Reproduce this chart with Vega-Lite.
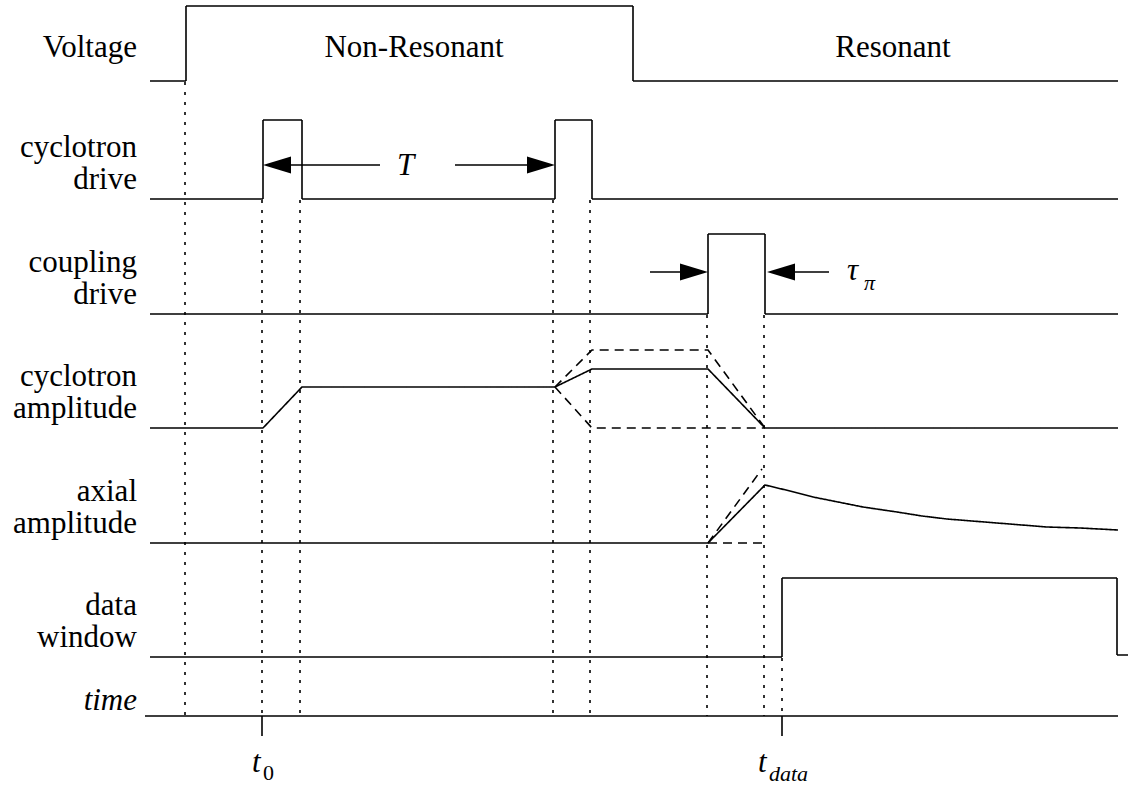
{
  "$schema": "https://vega.github.io/schema/vega-lite/v6.json",
  "width": 1134,
  "height": 785,
  "autosize": {"type": "fit", "contains": "padding"},
  "padding": 0,
  "background": "white",
  "config": {"view": {"stroke": null}},
  "datasets": {
    "lines": [
      {"s":"volt","st":"solid","i":0,"x":150,"y":81},{"s":"volt","st":"solid","i":1,"x":186,"y":81},{"s":"volt","st":"solid","i":2,"x":186,"y":6},{"s":"volt","st":"solid","i":3,"x":633,"y":6},{"s":"volt","st":"solid","i":4,"x":633,"y":81},{"s":"volt","st":"solid","i":5,"x":1118,"y":81},
      {"s":"cd","st":"solid","i":0,"x":150,"y":199},{"s":"cd","st":"solid","i":1,"x":263,"y":199},{"s":"cd","st":"solid","i":2,"x":263,"y":120},{"s":"cd","st":"solid","i":3,"x":302,"y":120},{"s":"cd","st":"solid","i":4,"x":302,"y":199},{"s":"cd","st":"solid","i":5,"x":555,"y":199},{"s":"cd","st":"solid","i":6,"x":555,"y":120},{"s":"cd","st":"solid","i":7,"x":592,"y":120},{"s":"cd","st":"solid","i":8,"x":592,"y":199},{"s":"cd","st":"solid","i":9,"x":1118,"y":199},
      {"s":"cp","st":"solid","i":0,"x":150,"y":314},{"s":"cp","st":"solid","i":1,"x":708,"y":314},{"s":"cp","st":"solid","i":2,"x":708,"y":234},{"s":"cp","st":"solid","i":3,"x":765,"y":234},{"s":"cp","st":"solid","i":4,"x":765,"y":314},{"s":"cp","st":"solid","i":5,"x":1118,"y":314},
      {"s":"ca","st":"solid","i":0,"x":150,"y":428},{"s":"ca","st":"solid","i":1,"x":263,"y":428},{"s":"ca","st":"solid","i":2,"x":302,"y":387},{"s":"ca","st":"solid","i":3,"x":555,"y":387},{"s":"ca","st":"solid","i":4,"x":592,"y":369},{"s":"ca","st":"solid","i":5,"x":708,"y":369},{"s":"ca","st":"solid","i":6,"x":765,"y":428},{"s":"ca","st":"solid","i":7,"x":1118,"y":428},
      {"s":"caU","st":"dashed","i":0,"x":555,"y":387},{"s":"caU","st":"dashed","i":1,"x":592,"y":350},{"s":"caU","st":"dashed","i":2,"x":708,"y":350},{"s":"caU","st":"dashed","i":3,"x":765,"y":428},
      {"s":"caD","st":"dashed","i":0,"x":555,"y":387},{"s":"caD","st":"dashed","i":1,"x":592,"y":428},{"s":"caD","st":"dashed","i":2,"x":765,"y":428},
      {"s":"ax","st":"solid","i":0,"x":150,"y":543},{"s":"ax","st":"solid","i":1,"x":708,"y":543},{"s":"ax","st":"solid","i":2,"x":765,"y":485},{"s":"ax","st":"solid","i":3,"x":790,"y":491},{"s":"ax","st":"solid","i":4,"x":813,"y":497},{"s":"ax","st":"solid","i":5,"x":838,"y":502},{"s":"ax","st":"solid","i":6,"x":863,"y":507},{"s":"ax","st":"solid","i":7,"x":897,"y":512},{"s":"ax","st":"solid","i":8,"x":922,"y":516},{"s":"ax","st":"solid","i":9,"x":947,"y":519},{"s":"ax","st":"solid","i":10,"x":972,"y":521},{"s":"ax","st":"solid","i":11,"x":997,"y":523},{"s":"ax","st":"solid","i":12,"x":1022,"y":525},{"s":"ax","st":"solid","i":13,"x":1047,"y":527},{"s":"ax","st":"solid","i":14,"x":1080,"y":528},{"s":"ax","st":"solid","i":15,"x":1118,"y":530},
      {"s":"axU","st":"dashed","i":0,"x":708,"y":543},{"s":"axU","st":"dashed","i":1,"x":762,"y":469},
      {"s":"axF","st":"dashed","i":0,"x":708,"y":543},{"s":"axF","st":"dashed","i":1,"x":765,"y":543},
      {"s":"dw","st":"solid","i":0,"x":150,"y":657},{"s":"dw","st":"solid","i":1,"x":782,"y":657},{"s":"dw","st":"solid","i":2,"x":782,"y":578},{"s":"dw","st":"solid","i":3,"x":1117,"y":578},{"s":"dw","st":"solid","i":4,"x":1117,"y":655},{"s":"dw","st":"solid","i":5,"x":1128,"y":655},
      {"s":"time","st":"solid","i":0,"x":145,"y":716},{"s":"time","st":"solid","i":1,"x":1118,"y":716},
      {"s":"tk0","st":"solid","i":0,"x":262,"y":716},{"s":"tk0","st":"solid","i":1,"x":262,"y":736},
      {"s":"tk1","st":"solid","i":0,"x":782,"y":716},{"s":"tk1","st":"solid","i":1,"x":782,"y":736},
      {"s":"a1","st":"solid","i":0,"x":290,"y":165},{"s":"a1","st":"solid","i":1,"x":380,"y":165},
      {"s":"a2","st":"solid","i":0,"x":455,"y":165},{"s":"a2","st":"solid","i":1,"x":528,"y":165},
      {"s":"a3","st":"solid","i":0,"x":650,"y":272},{"s":"a3","st":"solid","i":1,"x":681,"y":272},
      {"s":"a4","st":"solid","i":0,"x":795,"y":272},{"s":"a4","st":"solid","i":1,"x":829,"y":272},
      {"s":"d1","st":"dotted","i":0,"x":185,"y":82},{"s":"d1","st":"dotted","i":1,"x":185,"y":716},
      {"s":"d2","st":"dotted","i":0,"x":262,"y":200},{"s":"d2","st":"dotted","i":1,"x":262,"y":716},
      {"s":"d3","st":"dotted","i":0,"x":300,"y":200},{"s":"d3","st":"dotted","i":1,"x":300,"y":716},
      {"s":"d4","st":"dotted","i":0,"x":553,"y":200},{"s":"d4","st":"dotted","i":1,"x":553,"y":716},
      {"s":"d5","st":"dotted","i":0,"x":590,"y":200},{"s":"d5","st":"dotted","i":1,"x":590,"y":716},
      {"s":"d6","st":"dotted","i":0,"x":707,"y":315},{"s":"d6","st":"dotted","i":1,"x":707,"y":716},
      {"s":"d7","st":"dotted","i":0,"x":764,"y":315},{"s":"d7","st":"dotted","i":1,"x":764,"y":716},
      {"s":"d8","st":"dotted","i":0,"x":782,"y":658},{"s":"d8","st":"dotted","i":1,"x":782,"y":716}
    ],
    "arrows": [
      {"x":263,"y":165,"dir":"left"},
      {"x":555,"y":165,"dir":"right"},
      {"x":708,"y":272,"dir":"right"},
      {"x":767,"y":272,"dir":"left"}
    ],
    "labelsR": [
      {"x":137,"y":57,"text":"Voltage"},
      {"x":137,"y":157,"text":"cyclotron"},
      {"x":137,"y":189,"text":"drive"},
      {"x":137,"y":272,"text":"coupling"},
      {"x":137,"y":304,"text":"drive"},
      {"x":137,"y":386,"text":"cyclotron"},
      {"x":137,"y":418,"text":"amplitude"},
      {"x":137,"y":501,"text":"axial"},
      {"x":137,"y":533,"text":"amplitude"},
      {"x":137,"y":615,"text":"data"},
      {"x":137,"y":647,"text":"window"}
    ],
    "labelsC": [
      {"x":414,"y":57,"text":"Non-Resonant"},
      {"x":893,"y":57,"text":"Resonant"}
    ],
    "italicR": [
      {"x":137,"y":710,"text":"time"}
    ],
    "italicL": [
      {"x":397,"y":175,"text":"T"},
      {"x":252,"y":772,"text":"t"},
      {"x":758,"y":772,"text":"t"},
      {"x":847,"y":280,"text":"τ"}
    ],
    "subs": [
      {"x":263,"y":780,"text":"0","st":"n"},
      {"x":769,"y":781,"text":"data","st":"i"},
      {"x":864,"y":290,"text":"π","st":"i"}
    ]
  },
  "layer": [
    {
      "data": {"name": "lines"},
      "mark": {"type": "line", "color": "#000", "strokeWidth": 1.6},
      "encoding": {
        "x": {"field": "x", "type": "quantitative", "scale": {"domain": [0, 1134], "nice": false, "zero": false}, "axis": null},
        "y": {"field": "y", "type": "quantitative", "scale": {"domain": [0, 785], "nice": false, "reverse": true}, "axis": null},
        "detail": {"field": "s"},
        "order": {"field": "i", "type": "quantitative"},
        "strokeDash": {"field": "st", "type": "nominal", "scale": {"domain": ["solid", "dashed", "dotted"], "range": [[1, 0], [9, 6], [3, 7]]}, "legend": null}
      }
    },
    {
      "data": {"name": "arrows"},
      "mark": {"type": "point", "filled": true, "color": "#000", "opacity": 1, "size": 784, "strokeWidth": 0},
      "encoding": {
        "x": {"field": "x", "type": "quantitative"},
        "y": {"field": "y", "type": "quantitative"},
        "shape": {"field": "dir", "type": "nominal", "scale": {"domain": ["left", "right"], "range": ["M 0 0 L 2 -0.6 L 2 0.6 Z", "M 0 0 L -2 -0.6 L -2 0.6 Z"]}, "legend": null}
      }
    },
    {
      "data": {"name": "labelsR"},
      "mark": {"type": "text", "align": "right", "baseline": "alphabetic", "font": "Liberation Serif", "fontSize": 31, "color": "#000"},
      "encoding": {
        "x": {"field": "x", "type": "quantitative"},
        "y": {"field": "y", "type": "quantitative"},
        "text": {"field": "text"}
      }
    },
    {
      "data": {"name": "labelsC"},
      "mark": {"type": "text", "align": "center", "baseline": "alphabetic", "font": "Liberation Serif", "fontSize": 31, "color": "#000"},
      "encoding": {
        "x": {"field": "x", "type": "quantitative"},
        "y": {"field": "y", "type": "quantitative"},
        "text": {"field": "text"}
      }
    },
    {
      "data": {"name": "italicR"},
      "mark": {"type": "text", "align": "right", "baseline": "alphabetic", "font": "Liberation Serif", "fontStyle": "italic", "fontSize": 31, "color": "#000"},
      "encoding": {
        "x": {"field": "x", "type": "quantitative"},
        "y": {"field": "y", "type": "quantitative"},
        "text": {"field": "text"}
      }
    },
    {
      "data": {"name": "italicL"},
      "mark": {"type": "text", "align": "left", "baseline": "alphabetic", "font": "Liberation Serif", "fontStyle": "italic", "fontSize": 31, "color": "#000"},
      "encoding": {
        "x": {"field": "x", "type": "quantitative"},
        "y": {"field": "y", "type": "quantitative"},
        "text": {"field": "text"}
      }
    },
    {
      "data": {"name": "subs"},
      "transform": [{"filter": "datum.st === 'i'"}],
      "mark": {"type": "text", "align": "left", "baseline": "alphabetic", "font": "Liberation Serif", "fontStyle": "italic", "fontSize": 22, "color": "#000"},
      "encoding": {
        "x": {"field": "x", "type": "quantitative"},
        "y": {"field": "y", "type": "quantitative"},
        "text": {"field": "text"}
      }
    },
    {
      "data": {"name": "subs"},
      "transform": [{"filter": "datum.st === 'n'"}],
      "mark": {"type": "text", "align": "left", "baseline": "alphabetic", "font": "Liberation Serif", "fontSize": 22, "color": "#000"},
      "encoding": {
        "x": {"field": "x", "type": "quantitative"},
        "y": {"field": "y", "type": "quantitative"},
        "text": {"field": "text"}
      }
    }
  ]
}
